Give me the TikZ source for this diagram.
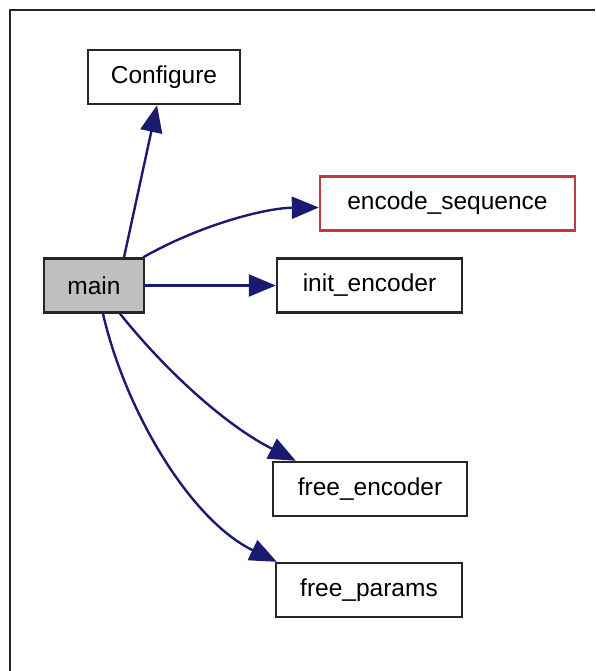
\documentclass[tikz,border=0pt]{standalone}
\usepackage{fontspec}
\setmainfont{Liberation Sans}
\usetikzlibrary{arrows.meta}
\definecolor{edgeblue}{HTML}{1A1A70}
\definecolor{callerfill}{HTML}{BFBFBF}
\definecolor{focusred}{HTML}{C03A44}
\tikzset{
  fn/.style={draw=black!85, line width=2.4pt, fill=white, inner sep=0pt,
    minimum height=54pt, font=\fontsize{24.5}{24.5}\selectfont},
  call/.style={draw=edgeblue, line width=2.4pt,
    -{Triangle[length=27pt,width=22pt]}},
  frameline/.style={draw=black!85, line width=2.4pt}
}
\begin{document}
\begin{tikzpicture}[x=1pt,y=-1pt]
  \useasboundingbox (0,0) rectangle (595,671);
  \fill[white] (0,0) rectangle (595,671);
  % outer frame (left and top edges)
  \draw[frameline] (10,671) -- (10,10) -- (595,10);

  % functions
  \node[fn, minimum width=152pt] (configure) at (164,77) {Configure};
  \node[fn, fill=callerfill, minimum width=100pt] (main) at (94,285.5) {main};
  \node[fn, draw=focusred, minimum width=255pt] (encseq) at (447.5,203.5) {encode\_sequence};
  \node[fn, minimum width=185pt] (initenc) at (369.5,285.5) {init\_encoder};
  \node[fn, minimum width=194pt] (freeenc) at (370,489) {free\_encoder};
  \node[fn, minimum width=186pt] (freepar) at (369,590) {free\_params};

  % calls from main
  \draw[call] ([xshift=30pt]main.north) -- ([xshift=-7pt]configure.south);
  \draw[call] ([xshift=-2pt]main.north east) .. controls (200,225) and (265,208) .. ([yshift=-4pt]encseq.west);
  \draw[call] (main.east) -- (initenc.west);
  \draw[call] ([xshift=26pt]main.south) .. controls (165,370) and (225,425) .. ([xshift=24pt]freeenc.north west);
  \draw[call] ([xshift=9pt]main.south) .. controls (125,410) and (190,520) .. ([xshift=2pt]freepar.north west);
\end{tikzpicture}
\end{document}
